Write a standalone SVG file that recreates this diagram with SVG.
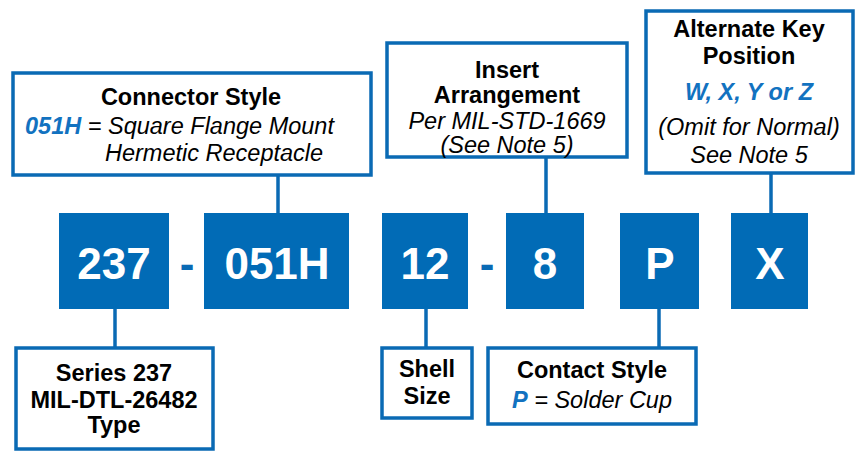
<svg xmlns="http://www.w3.org/2000/svg" width="859" height="455" viewBox="0 0 859 455">
<style>
.lbl{fill:#fff;stroke:#0a6ab4;stroke-width:3.5}
.blk{fill:#016bb6}
.conn line{stroke:#0a6ab4;stroke-width:3.5}
text{font-family:"Liberation Sans",Arial,sans-serif;font-size:23.5px;fill:#000}
.b{font-weight:bold}
.i{font-style:italic}
.bl{fill:#1272c0;font-weight:bold;font-style:italic}
.big{font-weight:bold;font-size:44px;fill:#fff;text-anchor:middle}
.c{text-anchor:middle}
.dash{font-weight:bold;font-size:44px;fill:#0a6ab4;text-anchor:middle}
</style>
<g class="conn" id="connectors">
<line x1="278" y1="175" x2="278" y2="213"/>
<line x1="546" y1="157" x2="546" y2="213"/>
<line x1="771" y1="173" x2="771" y2="213"/>
<line x1="115" y1="309" x2="115" y2="348"/>
<line x1="426" y1="309" x2="426" y2="348"/>
<line x1="659" y1="309" x2="659" y2="348"/>
</g>
<g id="n237"><rect class="blk" x="59" y="213" width="110" height="96"/><text class="big" x="114" y="279">237</text></g>
<text class="dash" x="187" y="279">-</text>
<g id="n051H"><rect class="blk" x="204" y="213" width="145" height="96"/><text class="big" x="277" y="279">051H</text></g>
<g id="n12"><rect class="blk" x="382" y="213" width="86" height="96"/><text class="big" x="425" y="279">12</text></g>
<text class="dash" x="487" y="279">-</text>
<g id="n8"><rect class="blk" x="506" y="213" width="78" height="96"/><text class="big" x="545" y="279">8</text></g>
<g id="nP"><rect class="blk" x="620" y="213" width="79" height="96"/><text class="big" x="660" y="279">P</text></g>
<g id="nX"><rect class="blk" x="731" y="213" width="77" height="96"/><text class="big" x="770" y="279">X</text></g>
<g id="connector-style"><rect class="lbl" x="13" y="73" width="358" height="102"/>
<text class="b c" x="191" y="105">Connector Style</text>
<text x="25" y="134"><tspan class="bl">051H</tspan><tspan class="i"> = Square Flange Mount</tspan></text>
<text class="i" x="105" y="161">Hermetic Receptacle</text></g>
<g id="insert"><rect class="lbl" x="387" y="43" width="240" height="114"/>
<text class="b c" x="507" y="78">Insert</text>
<text class="b c" x="507" y="103">Arrangement</text>
<text class="i c" x="507" y="129">Per MIL-STD-1669</text>
<text class="i c" x="507" y="153">(See Note 5)</text></g>
<g id="altkey"><rect class="lbl" x="646" y="11" width="207" height="162"/>
<text class="b c" x="749" y="37">Alternate Key</text>
<text class="b c" x="749" y="64">Position</text>
<text class="bl c" x="749" y="100">W, X, Y or Z</text>
<text class="i c" x="749" y="135">(Omit for Normal)</text>
<text class="i c" x="749" y="163">See Note 5</text></g>
<g id="series"><rect class="lbl" x="16" y="348" width="197" height="101"/>
<text class="b c" x="114" y="381">Series 237</text>
<text class="b c" x="114" y="408">MIL-DTL-26482</text>
<text class="b c" x="114" y="433">Type</text></g>
<g id="shell"><rect class="lbl" x="382" y="348" width="90" height="70"/>
<text class="b c" x="427" y="377">Shell</text>
<text class="b c" x="427" y="404">Size</text></g>
<g id="contact"><rect class="lbl" x="488" y="348" width="208" height="76"/>
<text class="b c" x="592" y="378">Contact Style</text>
<text class="c" x="592" y="408"><tspan class="bl">P</tspan><tspan class="i"> = Solder Cup</tspan></text></g>
</svg>
